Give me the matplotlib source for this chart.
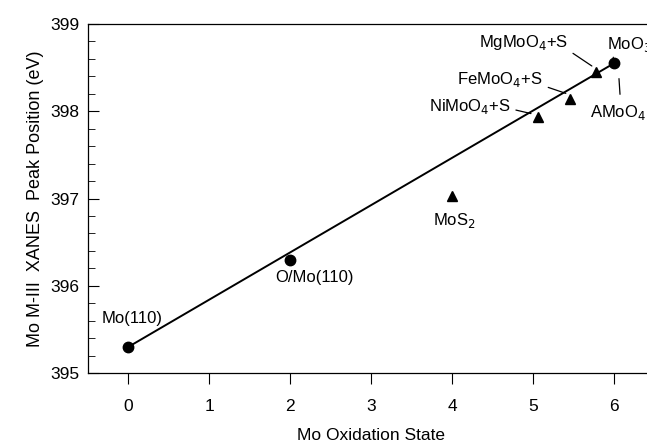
import matplotlib
matplotlib.use("Agg")
import matplotlib.pyplot as plt
from matplotlib.ticker import MultipleLocator

plt.rcParams['font.family'] = ['Liberation Sans', 'DejaVu Sans']

# reference compounds (filled circles) and sulfided molybdates (triangles)
ref_names = ["Mo(110)", "O/Mo(110)", "MoO$_3$"]
ref_ox = [0, 2, 6]
ref_peak = [395.3, 396.3, 398.55]

sulf_names = ["MoS$_2$", "NiMoO$_4$+S", "FeMoO$_4$+S", "MgMoO$_4$+S"]
sulf_ox = [4.0, 5.06, 5.46, 5.78]
sulf_peak = [397.03, 397.93, 398.14, 398.45]

# linear calibration line through the references
fit_x = [0, 6]
fit_y = [395.3, 398.55]

fig = plt.figure(figsize=(6.47, 4.48), dpi=100)
ax = fig.add_axes([0.136, 0.1674, 0.8756, 0.779])

ax.plot(fit_x, fit_y, color='black', lw=1.4)
ax.plot(ref_ox, ref_peak, 'o', color='black', ms=7.5)
ax.plot(sulf_ox, sulf_peak, '^', color='black', ms=6.5)

ax.set_xlim(-0.5, 6.5)
ax.set_ylim(395, 399)
ax.xaxis.set_major_locator(MultipleLocator(1))
ax.yaxis.set_major_locator(MultipleLocator(1))
ax.yaxis.set_minor_locator(MultipleLocator(0.2))
ax.tick_params(axis='y', which='major', direction='in', length=8, width=0.8,
               labelsize=12.5, right=False, pad=6)
ax.tick_params(axis='y', which='minor', direction='in', length=5, width=0.6, right=False)
ax.tick_params(axis='x', which='major', direction='out', length=8, width=0.8,
               labelsize=12.5, top=False, pad=11)
for s in ax.spines.values():
    s.set_linewidth(0.9)

ax.set_xlabel("Mo Oxidation State", fontsize=12.5, labelpad=10)
ax.set_ylabel("Mo M-III  XANES  Peak Position (eV)", fontsize=13, labelpad=5)

fs = 12
# plain labels
ax.text(0.04, 395.63, ref_names[0], fontsize=fs, ha='center', va='center')
ax.text(2.30, 396.10, ref_names[1], fontsize=fs, ha='center', va='center')
ax.text(4.03, 396.75, sulf_names[0], fontsize=fs, ha='center', va='center')


def leader(label, xy, xytext, ha, relpos, shrink=2):
    ax.annotate(label, xy=xy, xytext=xytext, ha=ha, va='center', fontsize=fs,
                arrowprops=dict(arrowstyle='-', color='black', lw=0.9,
                                relpos=relpos, shrinkA=shrink, shrinkB=1))


# labels with leader lines
leader(sulf_names[1], (4.99, 397.97), (4.72, 398.05), 'right', (1, 0.4))
leader(sulf_names[2], (5.42, 398.20), (5.12, 398.36), 'right', (1, 0.2))
leader(sulf_names[3], (5.74, 398.51), (5.43, 398.79), 'right', (1, 0.1))
leader(ref_names[2], (5.99, 398.61), (5.91, 398.76), 'left', (0.15, 0.0))
leader("AMoO$_4$", (6.06, 398.39), (5.70, 397.99), 'left', (0.55, 1.0), shrink=4)

fig.savefig("out.png", dpi=100)
